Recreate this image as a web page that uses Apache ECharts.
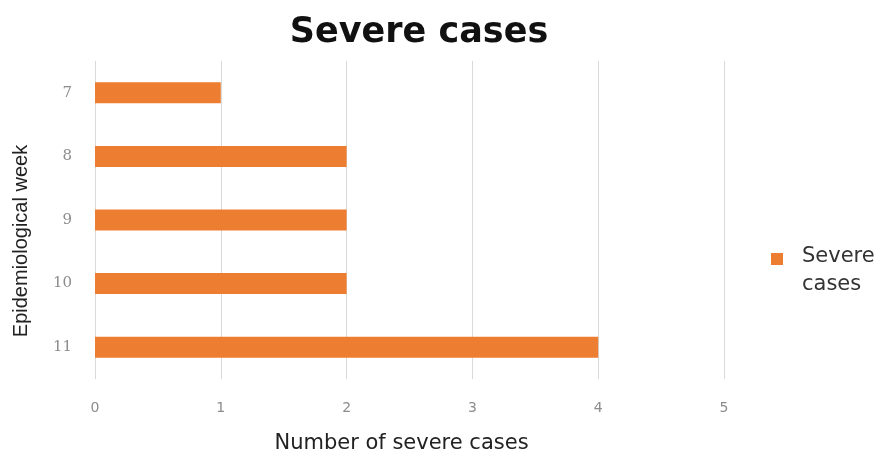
<!DOCTYPE html>
<html>
<head>
<meta charset="utf-8">
<script src="https://cdn.jsdelivr.net/npm/echarts@6/dist/echarts.min.js"></script>
<style>
  html, body { margin: 0; padding: 0; background: #fff; }
  #chart { width: 879px; height: 462px; }
</style>
</head>
<body>
<div id="chart"></div>
<script>
// Weekly counts of severe cases
const weeks = ['7', '8', '9', '10', '11'];
const severeCases = [1, 2, 2, 2, 4];
const xTicks = [0, 1, 2, 3, 4, 5];

const chart = echarts.init(document.getElementById('chart'), null, { renderer: 'canvas' });

chart.setOption({
  backgroundColor: '#ffffff',
  animation: false,
  title: {
    text: 'Severe cases',
    left: 414,
    top: 10,
    textAlign: 'center',
    textStyle: {
      fontFamily: 'DejaVu Sans, Verdana, sans-serif',
      fontSize: 35,
      fontWeight: 'bold',
      color: '#111'
    }
  },
  legend: {
    left: 766,
    top: 238,
    orient: 'vertical',
    // square marker sitting level with the first line of the label
    icon: 'path://M0,0h12v12h-12z M0,36h0.01v0.01z',
    itemWidth: 12,
    itemHeight: 36,
    textStyle: {
      fontFamily: 'DejaVu Sans, Verdana, sans-serif',
      fontSize: 21,
      color: '#333',
      lineHeight: 28,
      padding: [0, 0, 0, 14]
    },
    data: [{ name: 'Severe cases' }],
    formatter: function () { return 'Severe\ncases'; }
  },
  grid: {
    left: 95,
    right: 155,
    top: 61,
    height: 318,
    containLabel: false
  },
  xAxis: {
    type: 'value',
    min: xTicks[0],
    max: xTicks[xTicks.length - 1],
    interval: 1,
    name: 'Number of severe cases',
    nameLocation: 'middle',
    nameGap: 54,
    nameTextStyle: {
      fontFamily: 'DejaVu Sans, Verdana, sans-serif',
      fontSize: 21,
      color: '#222',
      padding: [0, 16, 0, 0]
    },
    axisLine: { show: false },
    axisTick: { show: false },
    axisLabel: {
      margin: 22,
      fontFamily: 'DejaVu Sans, sans-serif',
      fontSize: 14,
      color: '#8c8c8c'
    },
    splitLine: { show: true, lineStyle: { color: '#d9d9d9', width: 1 } }
  },
  yAxis: {
    type: 'category',
    data: weeks,
    inverse: true,
    name: 'Epidemiological week',
    nameLocation: 'middle',
    nameGap: 64,
    nameRotate: 90,
    nameTextStyle: {
      fontFamily: 'Liberation Sans, Arial, sans-serif',
      fontSize: 20,
      color: '#222',
      padding: [0, 42, 0, 0]
    },
    axisLine: { show: false },
    axisTick: { show: false },
    axisLabel: {
      margin: 23,
      fontFamily: 'DejaVu Serif, serif',
      fontSize: 15,
      color: '#8c8c8c'
    },
    splitLine: { show: false }
  },
  series: [{
    name: 'Severe cases',
    type: 'bar',
    data: severeCases,
    barWidth: 21,
    itemStyle: { color: '#ED7D31' }
  }]
});
</script>
</body>
</html>
